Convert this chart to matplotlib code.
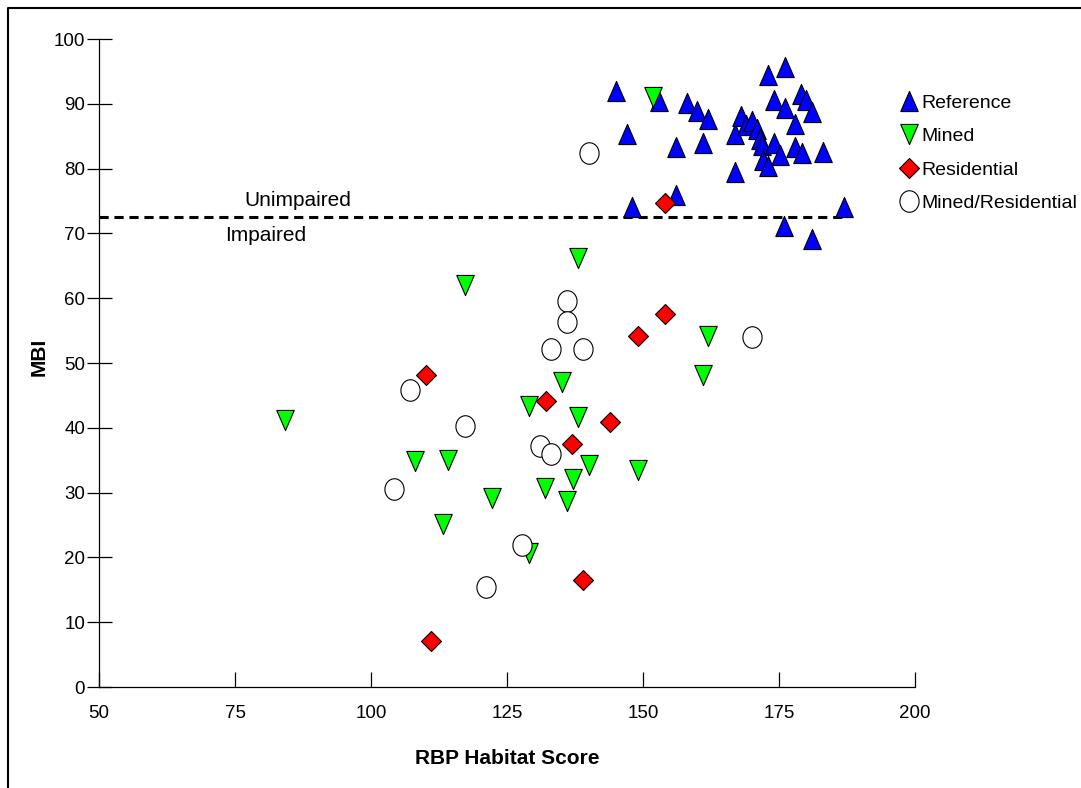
import numpy as np
import matplotlib
matplotlib.use("Agg")
import matplotlib.pyplot as plt
from matplotlib.path import Path
from matplotlib.lines import Line2D

plt.rcParams['font.family'] = ['Liberation Sans', 'DejaVu Sans']
plt.rcParams['font.size'] = 13.5

# RBP habitat score vs MBI by land use
ref_x = [145.0, 147.0, 152.9, 148.0, 156.1, 156.1, 158.0, 160.0, 161.1, 162.0,
         167.0, 167.0, 168.0, 168.9, 170.0, 171.0, 171.5, 171.8, 172.0, 173.0,
         173.0, 174.0, 174.0, 175.2, 176.1, 176.1, 176.0, 177.9, 177.9, 179.0,
         179.2, 180.0, 181.0, 181.0, 183.0, 187.0]
ref_y = [91.9, 85.3, 90.5, 74.1, 83.3, 75.9, 90.1, 88.9, 84.0, 87.7,
         79.5, 85.4, 88.1, 86.8, 87.3, 86.1, 84.6, 83.6, 81.4, 80.4,
         94.5, 90.6, 84.0, 82.1, 95.7, 89.3, 71.2, 86.9, 83.4, 91.5,
         82.4, 90.6, 88.8, 69.2, 82.6, 74.0]

mined_x = [151.9, 138.1, 117.2, 84.2, 108.1, 114.1, 113.2, 122.3, 129.1, 135.2,
           138.1, 132.0, 137.1, 136.0, 140.0, 149.1, 161.1, 162.0, 129.0]
mined_y = [91.1, 66.2, 62.0, 41.2, 34.8, 35.0, 25.2, 29.1, 43.4, 47.1,
           41.6, 30.7, 32.1, 28.7, 34.2, 33.5, 48.1, 54.2, 20.7]

res_x = [154.0, 154.0, 149.1, 110.1, 132.1, 137.0, 144.0, 139.0, 111.1]
res_y = [74.7, 57.6, 54.2, 48.2, 44.1, 37.5, 40.9, 16.5, 7.1]

mr_x = [140.1, 136.1, 136.1, 133.1, 139.0, 170.0, 107.2, 117.2, 104.2, 131.1,
        133.1, 127.8, 121.1]
mr_y = [82.4, 59.6, 56.4, 52.1, 52.1, 54.0, 45.8, 40.3, 30.6, 37.2,
        36.0, 21.9, 15.4]

threshold = 72.5

# slightly tall marker shapes
tri_up = [(-0.87, -1), (0.87, -1), (0, 1), (-0.87, -1)]
tri_down = [(-0.87, 1), (0.87, 1), (0, -1), (-0.87, 1)]
circ = Path.unit_circle()
ellipse = Path(circ.vertices * [0.89, 1.0], circ.codes)

fig = plt.figure(figsize=(10.81, 7.88), dpi=100)
ax = fig.add_axes([99 / 1081, 101 / 788, 816 / 1081, 648 / 788])

ax.hlines(threshold, 50, 187, colors='black', linewidth=2.2,
          linestyles=(0, (3.0, 1.9)), zorder=1)

kw = dict(linestyle='none', markeredgecolor='black', markeredgewidth=0.8, zorder=3)
ax.plot(ref_x, ref_y, marker=tri_up, markersize=14.5, color='#0000ff',
        label='Reference', **kw)
ax.plot(mined_x, mined_y, marker=tri_down, markersize=14.5, color='#00ff00',
        label='Mined', **kw)
ax.plot(res_x, res_y, marker='D', markersize=10.3, color='#ff0000',
        label='Residential', **kw)
ax.plot(mr_x, mr_y, marker=ellipse, markersize=15.5, color='white',
        label='Mined/Residential', **kw)

ax.text(86.6, 75.0, 'Unimpaired', ha='center', va='center', fontsize=15)
ax.text(80.7, 69.6, 'Impaired', ha='center', va='center', fontsize=15)

ax.set_xlim(50, 200)
ax.set_ylim(0, 100)
ax.set_xticks(np.arange(50, 201, 25))
ax.set_yticks(np.arange(0, 101, 10))
ax.spines['top'].set_visible(False)
ax.spines['right'].set_visible(False)
for s in ('left', 'bottom'):
    ax.spines[s].set_linewidth(0.9)
ax.tick_params(axis='y', direction='inout', length=18, width=0.9, pad=1)
ax.tick_params(axis='x', direction='in', length=10.5, width=0.9, pad=13)

ax.set_xlabel('RBP Habitat Score', fontweight='bold', fontsize=15)
ax.set_ylabel('MBI', fontweight='bold', fontsize=15)
ax.xaxis.set_label_coords(0.5, -0.095)
ax.yaxis.set_label_coords(-0.062, 0.51)

fig.legend(loc='upper left', bbox_to_anchor=(899 / 1081, 1 - 94 / 788),
           bbox_transform=fig.transFigure, frameon=False, borderpad=0,
           borderaxespad=0, handlelength=1.0, handletextpad=0.15,
           labelspacing=0.82, numpoints=1, fontsize=14)

# outer frame along the left and top edges
fig.add_artist(Line2D([8 / 1081, 8 / 1081, 1.0], [0.0, 1 - 8 / 788, 1 - 8 / 788],
                      transform=fig.transFigure, color='black', linewidth=1.5))

fig.savefig('out.png', dpi=100)
